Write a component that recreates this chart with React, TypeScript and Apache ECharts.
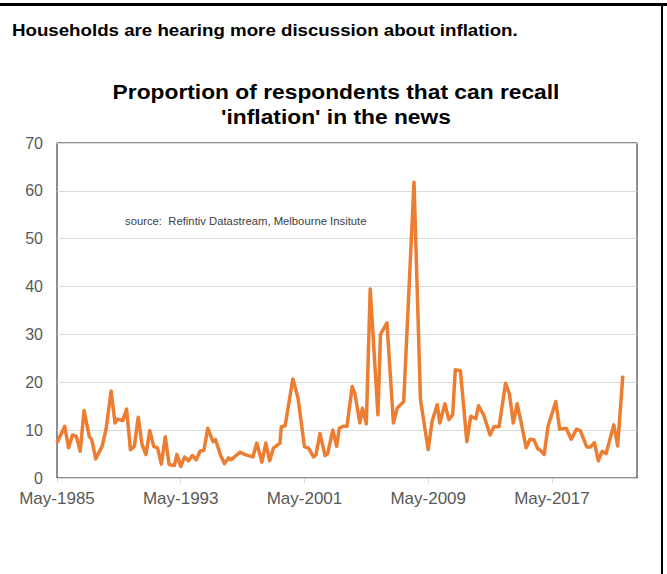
import React, { useEffect, useRef } from "react";
import * as echarts from "echarts";

const FONT = '"Liberation Sans", Arial, sans-serif';

const headline = "Households are hearing more discussion about inflation.";
const titleLines = ["Proportion of respondents that can recall", "'inflation' in the news"];
const sourceNote = "source:  Refintiv Datastream, Melbourne Insitute";

// Survey dates (YYYY-MM) and share of respondents recalling 'inflation' in the news (%)
const dates = [
  "1985-05", "1985-11", "1986-02", "1986-05", "1986-08", "1986-11", "1987-02", "1987-06", "1987-08", "1987-11",
  "1988-04", "1988-07", "1988-11", "1989-02", "1989-04", "1989-08", "1989-11", "1990-02", "1990-05", "1990-08",
  "1990-11", "1991-02", "1991-05", "1991-08", "1991-11", "1992-02", "1992-05", "1992-08", "1992-12", "1993-02",
  "1993-05", "1993-08", "1993-11", "1994-02", "1994-05", "1994-08", "1994-11", "1995-02", "1995-06", "1995-08",
  "1995-12", "1996-03", "1996-06", "1996-08", "1996-12", "1997-03", "1997-07", "1998-01", "1998-04", "1998-08",
  "1998-11", "1999-02", "1999-05", "1999-10", "1999-11", "2000-02", "2000-08", "2000-12", "2001-05", "2001-08",
  "2001-12", "2002-02", "2002-05", "2002-09", "2002-11", "2003-03", "2003-06", "2003-08", "2003-11", "2004-02",
  "2004-06", "2004-08", "2004-12", "2005-02", "2005-05", "2005-08", "2006-02", "2006-04", "2006-09", "2007-02",
  "2007-05", "2007-10", "2008-06", "2008-11", "2009-05", "2009-08", "2009-12", "2010-02", "2010-06", "2010-09",
  "2010-12", "2011-02", "2011-06", "2011-11", "2012-02", "2012-06", "2012-08", "2012-12", "2013-05", "2013-08",
  "2013-12", "2014-05", "2014-08", "2014-11", "2015-02", "2015-05", "2015-09", "2015-12", "2016-03", "2016-06",
  "2016-08", "2016-11", "2017-02", "2017-08", "2017-11", "2018-04", "2018-08", "2018-12", "2019-03", "2019-08",
  "2019-11", "2020-02", "2020-05", "2020-08", "2020-11", "2021-05", "2021-08", "2021-12",
];
const values = [
  7.3, 10.8, 6.3, 9.0, 8.7, 5.6, 14.1, 8.7, 8.0, 4.0,
  6.6, 10.1, 18.2, 11.5, 12.3, 12.0, 14.4, 5.9, 6.6, 12.7,
  7.0, 4.9, 9.9, 6.6, 6.3, 2.9, 8.6, 2.8, 2.6, 4.9,
  2.4, 4.4, 3.6, 4.7, 3.8, 5.6, 5.8, 10.4, 7.6, 8.0,
  4.7, 3.0, 4.2, 3.8, 4.7, 5.4, 4.9, 4.4, 7.3, 3.3,
  7.3, 3.6, 6.3, 7.3, 10.7, 10.9, 20.7, 16.7, 6.5, 6.3,
  4.4, 4.9, 9.3, 4.7, 5.1, 10.0, 6.6, 10.4, 10.8, 10.8,
  19.1, 17.8, 11.5, 14.6, 11.3, 39.5, 13.2, 30.0, 32.4, 11.5,
  14.6, 16.0, 61.8, 16.4, 5.9, 11.8, 15.3, 11.5, 15.5, 12.2,
  13.2, 22.6, 22.4, 7.6, 12.9, 12.4, 15.1, 13.2, 9.0, 10.7,
  10.7, 19.8, 17.6, 11.5, 15.5, 11.8, 6.3, 8.1, 8.0, 6.1,
  5.8, 4.9, 10.8, 16.0, 10.2, 10.4, 8.1, 10.2, 9.9, 6.5,
  6.5, 7.4, 3.6, 5.6, 5.1, 11.1, 6.7, 21.4,
];

const yTicks = [0, 10, 20, 30, 40, 50, 60, 70];
const xTickYears = [1985, 1993, 2001, 2009, 2017];
const START_YEAR = 1985;
const START_MONTH = 5;
const X_MAX_MONTHS = 450;

const monthsSinceStart = (d: string) => {
  const [y, m] = d.split("-").map(Number);
  return (y - START_YEAR) * 12 + (m - START_MONTH);
};

export default function App() {
  const ref = useRef<HTMLDivElement>(null);
  useEffect(() => {
    if (!ref.current) return;
    const chart = echarts.init(ref.current, undefined, { renderer: "svg" });
    const seriesData = dates.map((d, i) => [monthsSinceStart(d), values[i]]);
    const tickMonths = xTickYears.map((y) => (y - START_YEAR) * 12);
    chart.setOption({
      animation: false,
      backgroundColor: "#ffffff",
      grid: {
        left: 57,
        top: 143,
        width: 580,
        height: 335,
        show: true,
        borderColor: "#1a1a1a",
        borderWidth: 1,
        containLabel: false,
      },
      xAxis: {
        type: "value",
        min: 0,
        max: X_MAX_MONTHS,
        interval: 96,
        axisLine: { show: true, lineStyle: { color: "#d9d9d9", width: 1 } },
        axisTick: { show: true, length: 5, lineStyle: { color: "#d9d9d9" } },
        splitLine: { show: false },
        axisLabel: {
          show: true,
          margin: 12,
          color: "#595959",
          fontFamily: FONT,
          fontSize: 17,
          showMaxLabel: false,
          formatter: (v: number) =>
            tickMonths.includes(v) ? "May-" + (START_YEAR + v / 12) : "",
        },
      },
      yAxis: {
        type: "value",
        min: yTicks[0],
        max: yTicks[yTicks.length - 1],
        interval: 10,
        axisLine: { show: false },
        axisTick: { show: false },
        splitLine: { show: true, lineStyle: { color: "#d9d9d9", width: 1 } },
        axisLabel: {
          margin: 14,
          color: "#595959",
          fontFamily: FONT,
          fontSize: 16,
        },
      },
      series: [
        {
          type: "line",
          data: seriesData,
          symbol: "none",
          lineStyle: { color: "#ED7D31", width: 3.5, join: "round" },
          z: 3,
        },
      ],
      graphic: [
        { type: "rect", shape: { x: 0, y: 3, width: 667, height: 3 }, style: { fill: "#000" } },
        { type: "rect", shape: { x: 661, y: 3, width: 2, height: 571 }, style: { fill: "#000" } },
        {
          type: "text",
          x: 12,
          y: 30,
          scaleX: 1.1,
          style: {
            text: headline,
            font: `bold 17px ${FONT}`,
            fill: "#000",
            textAlign: "left",
            textVerticalAlign: "middle",
          },
        },
        {
          type: "text",
          x: 336,
          y: 92,
          scaleX: 1.085,
          style: {
            text: titleLines[0],
            font: `bold 21px ${FONT}`,
            fill: "#000",
            textAlign: "center",
            textVerticalAlign: "middle",
          },
        },
        {
          type: "text",
          x: 336,
          y: 117,
          scaleX: 1.085,
          style: {
            text: titleLines[1],
            font: `bold 21px ${FONT}`,
            fill: "#000",
            textAlign: "center",
            textVerticalAlign: "middle",
          },
        },
        {
          type: "text",
          x: 125,
          y: 221,
          scaleX: 1.13,
          style: {
            text: sourceNote,
            font: `10px ${FONT}`,
            fill: "#404040",
            textAlign: "left",
            textVerticalAlign: "middle",
          },
        },
      ],
    });
    return () => chart.dispose();
  }, []);
  return (
    <div
      ref={ref}
      style={{ position: "absolute", left: 0, top: 0, width: 667, height: 574 }}
    />
  );
}
